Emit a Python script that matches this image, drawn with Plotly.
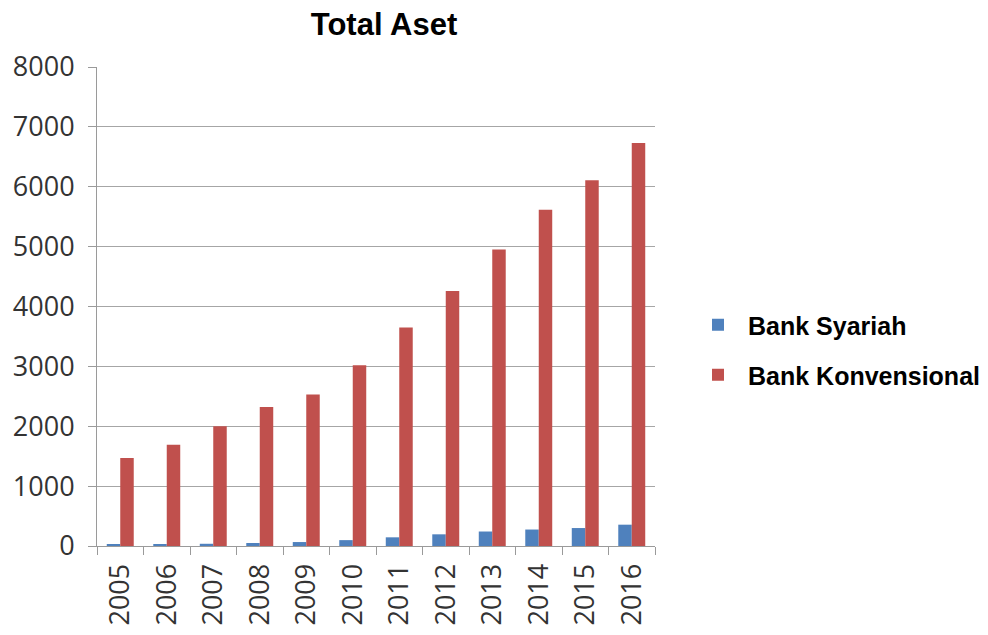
import plotly.graph_objects as go

years = ["2005", "2006", "2007", "2008", "2009", "2010",
         "2011", "2012", "2013", "2014", "2015", "2016"]
syariah = [21, 27, 37, 50, 66, 98, 145, 195, 242, 275, 300, 356]
konvensional = [1470, 1690, 2000, 2320, 2530, 3020, 3650, 4260, 4950, 5615, 6110, 6730]
y_ticks = [0, 1000, 2000, 3000, 4000, 5000, 6000, 7000, 8000]

fig = go.Figure()
fig.add_trace(go.Bar(x=years, y=syariah, name="<b>Bank Syariah</b>",
                     marker=dict(color="#4F81BD", line=dict(width=0)), legend="legend"))
fig.add_trace(go.Bar(x=years, y=konvensional, name="<b>Bank Konvensional</b>",
                     marker=dict(color="#C0504D", line=dict(width=0)), legend="legend2"))

leg_common = dict(xref="container", yref="container", xanchor="left", yanchor="middle",
                  font=dict(family="Liberation Sans", size=25, color="#000000"),
                  bgcolor="rgba(0,0,0,0)", borderwidth=0, itemwidth=50)

fig.update_layout(
    width=988, height=635,
    margin=dict(l=97, r=333, t=67, b=89),
    paper_bgcolor="white", plot_bgcolor="white",
    title=dict(text="<b>Total Aset</b>", x=384 / 988, xanchor="center", xref="container",
               y=1 - 24 / 635, yanchor="middle", yref="container",
               font=dict(family="Liberation Sans", size=31, color="#000000")),
    barmode="group", bargap=0.42, bargroupgap=0,
    legend=dict(x=688 / 988, y=1 - 325 / 635, **leg_common),
    legend2=dict(x=688 / 988, y=1 - 375 / 635, **leg_common),
    showlegend=True,
    xaxis=dict(type="category", tickangle=-90, showgrid=False, automargin=False,
               showline=True, linecolor="#9a9a9a", linewidth=1,
               ticks="outside", tickson="boundaries", ticklen=8, tickcolor="#9a9a9a",
               ticklabelstandoff=6,
               tickfont=dict(family="Open Sans", size=27, color="#333333"),
               mirror=False),
    yaxis=dict(range=[0, 8000], tickvals=y_ticks, showgrid=True, gridcolor="#a6a6a6",
               gridwidth=1, showline=True, linecolor="#9a9a9a", linewidth=1,
               ticks="outside", ticklen=8, tickcolor="#9a9a9a", automargin=False,
               ticklabelstandoff=8,
               tickfont=dict(family="Open Sans", size=27, color="#333333"),
               zeroline=False),
)

fig.write_html("out.html")
